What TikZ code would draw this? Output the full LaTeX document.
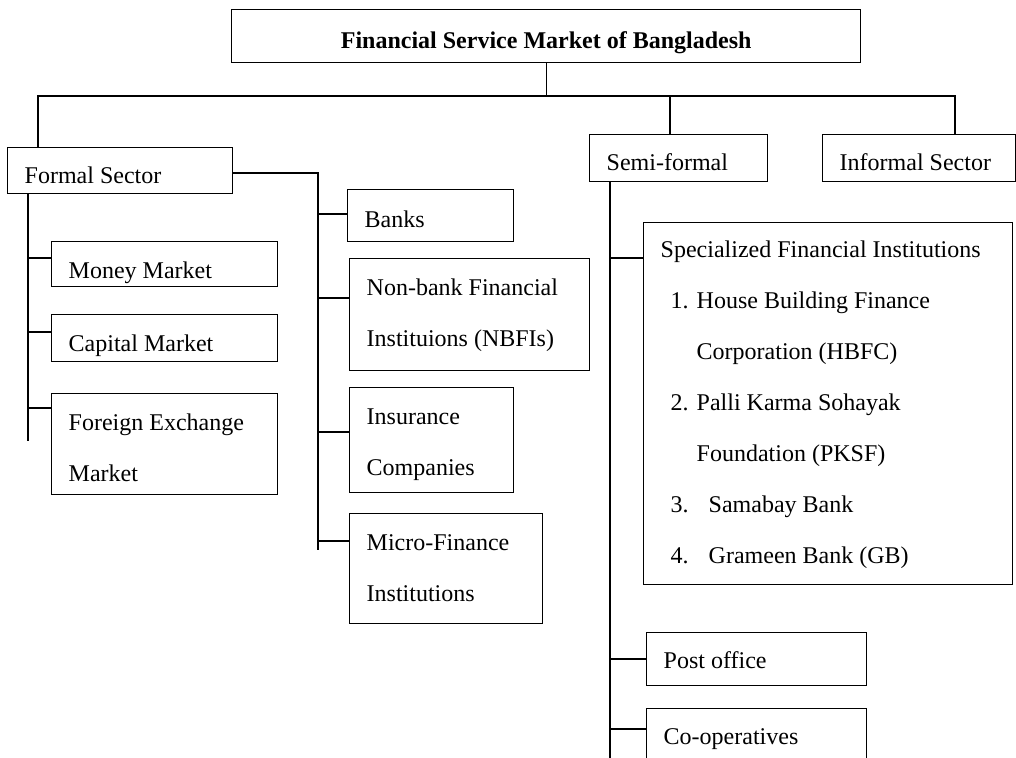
\documentclass[tikz,border=0pt]{standalone}
\usepackage{fontspec}
\setmainfont{Liberation Serif}
\usetikzlibrary{calc}
\tikzset{
	sector/.style={rectangle, draw=black, line width=0.7pt, anchor=north west, inner xsep=8.5pt, inner ysep=0pt, align=flush left, font=\fontsize{12}{25.5}\selectfont, text depth=5.5pt},
	headbox/.style={sector, align=flush center, font=\fontsize{12}{25.5}\selectfont\bfseries},
	branch/.style={line width=0.7pt, draw=black},
}
\newcommand{\topgap}[1][18.5pt]{\rule{0pt}{#1}}

\begin{document}
\begin{tikzpicture}[x=0.5pt, y=-0.5pt]
	\useasboundingbox (0,0) rectangle (1016,757);
	\clip (0,0) rectangle (1016,757);

	\node[headbox, text width=297.5pt, text depth=7pt] (title) at (231,9) {\topgap[19.5pt]Financial Service Market of Bangladesh};

	% sectors
	\node[sector, text width=95.5pt, text depth=5pt] (formal) at (7,147) {\topgap[18pt]Formal Sector};
	\node[sector, text width=72pt] (semi) at (589,134) {\topgap[18pt]Semi-formal};
	\node[sector, text width=79.5pt] (informal) at (822,134) {\topgap[18pt]Informal Sector};

	% markets
	\node[sector, text width=96pt, text depth=4pt] (money) at (51,241) {\topgap Money Market};
	\node[sector, text width=96pt, text depth=5pt] (capital) at (51,314) {\topgap Capital Market};
	\node[sector, text width=96pt, text depth=32pt] (forex) at (51,393) {\topgap Foreign Exchange\\Market};

	% institutions
	\node[sector, text width=66pt, text depth=7pt] (banks) at (347,189) {\topgap[19pt]Banks};
	\node[sector, text width=103pt, text depth=37.5pt] (nbfi) at (349,258) {\topgap Non-bank Financial\\Instituions (NBFIs)};
	\node[sector, text width=65pt, text depth=34pt] (insur) at (349,387) {\topgap Insurance\\Companies};
	\node[sector, text width=79.5pt, text depth=36.5pt] (micro) at (349,513) {\topgap Micro-Finance\\Institutions};

	% semi-formal
	\node[sector, text width=167.5pt, text depth=163.5pt] (sfi) at (643,222) {\topgap[17.5pt]Specialized Financial Institutions\\
		\hspace*{5pt}\makebox[13pt][l]{1.}House Building Finance\\
		\hspace*{18pt}Corporation (HBFC)\\
		\hspace*{5pt}\makebox[13pt][l]{2.}Palli Karma Sohayak\\
		\hspace*{18pt}Foundation (PKSF)\\
		\hspace*{5pt}\makebox[19pt][l]{3.}Samabay Bank\\
		\hspace*{5pt}\makebox[19pt][l]{4.}Grameen Bank (GB)};
	\node[sector, text width=93pt, text depth=8.5pt] (post) at (646,632) {\topgap[18pt]Post office};
	\node[sector, text width=93pt, text depth=8.5pt] (coop) at (646,708) {\topgap[18pt]Co-operatives};

	% trunk
	\coordinate (busL) at (38,96);
	\coordinate (busR) at (955,96);
	\coordinate (busS) at (670,96);
	\draw[branch] (title.south) -- (title.south |- busL);
	\draw[branch] (busL |- formal.north) -- (busL) -- (busR) -- (busR |- informal.north);
	\draw[branch] (busS) -- (busS |- semi.north);

	% side rails
	\coordinate (mktL) at (28,441);
	\coordinate (instL) at (318,550);
	\coordinate (semiL) at (610,760);
	\coordinate (formalR) at ($(formal.north east)+(0,26)$);
	\draw[branch] (mktL |- formal.south) -- (mktL);
	\draw[branch] (formalR) -| (instL);
	\draw[branch] (semiL |- semi.south) -- (semiL);

	\foreach \n/\dy in {money/17, capital/18, forex/15}{
		\coordinate (tap) at ($(\n.north west)+(0,\dy)$);
		\draw[branch] (tap) -- (tap -| mktL);
	}
	\foreach \n/\dy in {banks/25, nbfi/40, insur/45, micro/28}{
		\coordinate (tap) at ($(\n.north west)+(0,\dy)$);
		\draw[branch] (tap) -- (tap -| instL);
	}
	\foreach \n/\dy in {sfi/36, post/27, coop/21}{
		\coordinate (tap) at ($(\n.north west)+(0,\dy)$);
		\draw[branch] (tap) -- (tap -| semiL);
	}
\end{tikzpicture}
\end{document}
